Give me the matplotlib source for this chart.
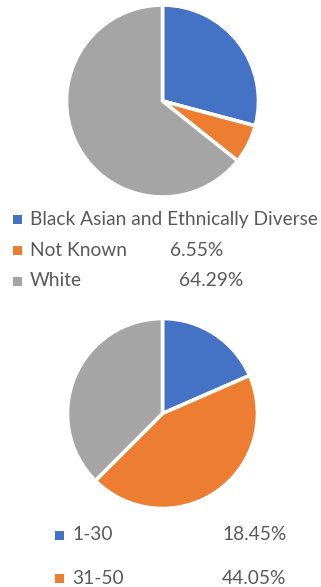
import matplotlib
matplotlib.use("Agg")
import matplotlib.pyplot as plt
from matplotlib.patches import Rectangle

# Data
eth_labels = ["Black Asian and Ethnically Diverse", "Not Known", "White"]
eth_values = [29.16, 6.55, 64.29]
eth_pct_text = ["", "6.55%", "64.29%"]

age_labels = ["1-30", "31-50", "51+"]
age_values = [18.45, 44.05, 37.50]
age_pct_text = ["18.45%", "44.05%"]

colors = ["#4472C4", "#ED7D31", "#A5A5A5"]
text_color = "#595959"

W, H = 321, 587
fig = plt.figure(figsize=(W / 100, H / 100), dpi=100)
fig.patch.set_facecolor("white")

def add_pie(cx, cy, r, values):
    ax = fig.add_axes([(cx - r) / W, 1 - (cy + r) / H, 2 * r / W, 2 * r / H])
    ax.pie(values, colors=colors, startangle=90, counterclock=False,
           wedgeprops=dict(edgecolor="white", linewidth=2.6))
    ax.set_xlim(-1.0, 1.0)
    ax.set_ylim(-1.0, 1.0)
    ax.set_aspect("equal")
    ax.axis("off")
    return ax

add_pie(162.5, 101, 96, eth_values)
add_pie(162.5, 413.5, 95, age_values)

font = "Lato"
fs = 13.8

def legend_row(mx, y, color, label, pct, tx, px):
    fig.patches.append(Rectangle((mx / W, 1 - (y + 4.5) / H), 8.5 / W, 8.5 / H,
                                 transform=fig.transFigure, facecolor=color,
                                 edgecolor="none", figure=fig))
    fig.text(tx / W, 1 - y / H, label, color=text_color, fontsize=fs,
             family=font, va="center", ha="left")
    if pct:
        fig.text(px / W, 1 - y / H, pct, color=text_color, fontsize=fs,
                 family=font, va="center", ha="left")

rows_y = [219, 250, 281]
pct_x = [0, 170, 179]
for i in range(3):
    legend_row(13, rows_y[i], colors[i], eth_labels[i], eth_pct_text[i], 30, pct_x[i])

rows_y2 = [535, 578]
for i in range(2):
    legend_row(55, rows_y2[i], colors[i], age_labels[i], age_pct_text[i], 72, 222)

fig.savefig("out.png", dpi=100)
